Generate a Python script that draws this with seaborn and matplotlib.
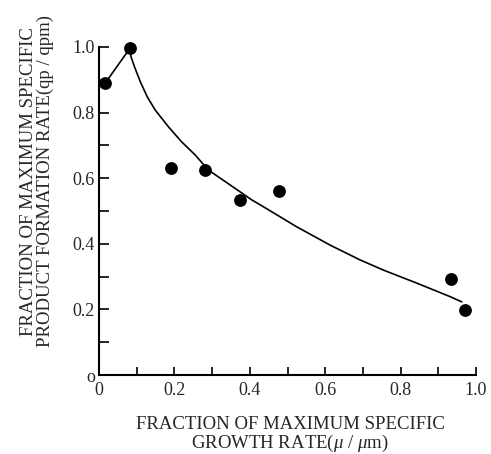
import numpy as np
import pandas as pd
import matplotlib
matplotlib.use('Agg')
import matplotlib.pyplot as plt
import seaborn as sns
from matplotlib.ticker import MultipleLocator

# Measured points (fraction of max growth rate vs fraction of max product formation rate)
point_x = [0.016, 0.082, 0.191, 0.281, 0.374, 0.477, 0.934, 0.971]
point_y = [0.889, 0.996, 0.630, 0.625, 0.534, 0.561, 0.292, 0.198]

# Fitted curve
curve_x = [0.016, 0.082, 0.085, 0.095, 0.110, 0.128, 0.149, 0.184, 0.219, 0.255, 0.290, 0.347,
           0.405, 0.436, 0.524, 0.613, 0.692, 0.754, 0.843, 0.931, 0.962]
curve_y = [0.889, 0.996, 0.970, 0.937, 0.893, 0.848, 0.808, 0.757, 0.711, 0.671, 0.625, 0.580,
           0.534, 0.513, 0.452, 0.396, 0.351, 0.320, 0.280, 0.239, 0.223]

x_ticks = [0, 0.2, 0.4, 0.6, 0.8, 1.0]
x_tick_labels = ['0', '0.2', '0.4', '0.6', '0.8', '1.0']
y_ticks = [0, 0.2, 0.4, 0.6, 0.8, 1.0]
y_tick_labels = ['o', '0.2', '0.4', '0.6', '0.8', '1.0']

points = pd.DataFrame({'x': point_x, 'y': point_y})
curve = pd.DataFrame({'x': curve_x, 'y': curve_y})

sns.set_style('ticks')
plt.rcParams['font.family'] = ['Liberation Serif', 'DejaVu Serif']
plt.rcParams['mathtext.fontset'] = 'custom'
plt.rcParams['mathtext.rm'] = 'Liberation Serif'
plt.rcParams['mathtext.it'] = 'Liberation Serif:italic'

fig = plt.figure(figsize=(4.91, 4.54), dpi=100)
ax = fig.add_axes([0.2016, 0.174, 0.768, 0.7225])

sns.lineplot(data=curve, x='x', y='y', sort=False, color='black', linewidth=1.2, ax=ax)
sns.scatterplot(data=points, x='x', y='y', color='black', s=85, edgecolor='black',
                linewidth=0, zorder=3, clip_on=False, ax=ax)

ax.set_xlim(0, 1.0)
ax.set_ylim(0, 1.0)
ax.set_xticks(x_ticks)
ax.set_xticklabels(x_tick_labels)
ax.set_yticks(y_ticks)
ax.set_yticklabels(y_tick_labels)
ax.xaxis.set_minor_locator(MultipleLocator(0.1))
ax.yaxis.set_minor_locator(MultipleLocator(0.1))
ax.tick_params(axis='x', which='both', direction='in', length=6, width=1.2,
               labelsize=13, pad=5, color='black')
ax.tick_params(axis='y', which='both', direction='in', length=7, width=1.2,
               labelsize=13, pad=3, color='black')

for side in ['top', 'right']:
    ax.spines[side].set_visible(False)
for side in ['left', 'bottom']:
    ax.spines[side].set_linewidth(1.5)
    ax.spines[side].set_color('black')

ax.set_xlabel('FRACTION OF MAXIMUM SPECIFIC\nGROWTH RATE($\\mathit{\\mu}$ / $\\mathit{\\mu}$m)',
              fontsize=13.5, linespacing=1.0)
ax.set_ylabel('FRACTION OF MAXIMUM SPECIFIC\nPRODUCT FORMATION RATE(qp / qpm)',
              fontsize=13.5, linespacing=1.0)
ax.xaxis.set_label_coords(0.507, -0.125)
ax.yaxis.set_label_coords(-0.118, 0.59)

fig.savefig('out.png', dpi=100, facecolor='white')
